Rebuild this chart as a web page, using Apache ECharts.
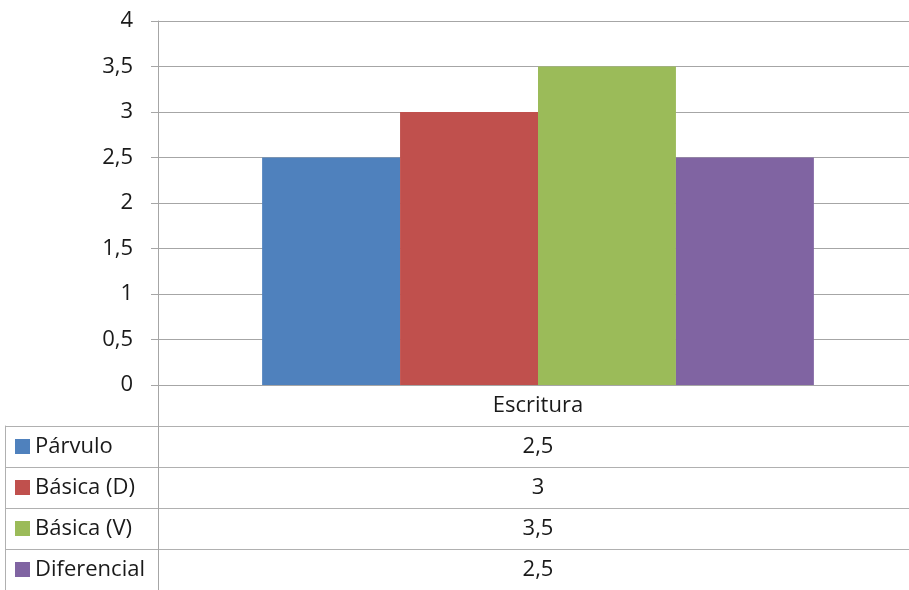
<!DOCTYPE html>
<html>
<head>
<meta charset="utf-8">
<style>
html,body{margin:0;padding:0;background:#fff;overflow:hidden;width:909px;height:590px;}
#c{width:918px;height:590px;}
</style>
<script src="https://cdn.jsdelivr.net/npm/echarts@6/dist/echarts.min.js"></script>
</head>
<body>
<div id="c"></div>
<script>
// ---- data ----
var categories = ['Escritura'];
var seriesNames = ['Párvulo', 'Básica (D)', 'Básica (V)', 'Diferencial'];
var parvulo = [2.5];
var basicaD = [3];
var basicaV = [3.5];
var diferencial = [2.5];
var yMin = 0, yMax = 4, yInterval = 0.5;
var colors = ['#4F81BD', '#C0504D', '#9BBB59', '#8064A2'];

var seriesValues = [parvulo, basicaD, basicaV, diferencial];
var FONT = '"Open Sans", sans-serif';
var TXT = '#1a1a1a';
var LINE = '#A6A6A6';
var fmt = function (v) { return String(v).replace('.', ','); };

var rich = { t: { fontFamily: FONT, fontSize: 22, color: TXT, padding: [0, 0, 0, 5] } };
seriesNames.forEach(function (n, i) {
  rich['s' + i] = { width: 15, height: 15, backgroundColor: colors[i] };
});

var series = seriesNames.map(function (n, i) {
  return {
    name: n, type: 'bar', xAxisIndex: 0, yAxisIndex: 0,
    data: seriesValues[i], itemStyle: { color: colors[i] },
    barGap: '0%', barCategoryGap: '27.4%'
  };
});

var tableData = [];
seriesNames.forEach(function (n, i) {
  categories.forEach(function (c, j) {
    tableData.push([c, n, seriesValues[i][j]]);
  });
});
series.push({
  type: 'scatter', xAxisIndex: 1, yAxisIndex: 1, symbolSize: 0, silent: true,
  itemStyle: { opacity: 1 },
  data: tableData,
  label: { show: true, position: 'inside', fontFamily: FONT, fontSize: 22, color: TXT, opacity: 1,
    formatter: function (p) { return fmt(p.value[2]); } }
});

var chart = echarts.init(document.getElementById('c'));
chart.setOption({
  animation: false,
  backgroundColor: '#fff',
  grid: [
    { left: 158, top: 21, right: 0, height: 364 },
    { left: 158, top: 426, right: 0, height: 165 }
  ],
  xAxis: [
    { type: 'category', gridIndex: 0, data: categories,
      axisLine: { show: true, lineStyle: { color: LINE } },
      axisTick: { show: true, alignWithLabel: false, length: 41, lineStyle: { color: LINE } },
      axisLabel: { fontFamily: FONT, fontSize: 22, color: TXT, margin: 10, lineHeight: 22 } },
    { type: 'category', gridIndex: 1, data: categories, show: false }
  ],
  yAxis: [
    { type: 'value', gridIndex: 0, min: yMin, max: yMax, interval: yInterval,
      axisLine: { show: true, lineStyle: { color: LINE } },
      axisTick: { show: true, length: 7, lineStyle: { color: LINE } },
      splitLine: { show: true, lineStyle: { color: LINE } },
      axisLabel: { fontFamily: FONT, fontSize: 22, color: TXT, margin: 25, formatter: fmt } },
    { type: 'category', gridIndex: 1, data: seriesNames, inverse: true,
      axisLine: { show: true, lineStyle: { color: LINE } },
      axisTick: { show: true, alignWithLabel: false, length: 153, lineStyle: { color: '#B0B0B0' } },
      splitLine: { show: true, lineStyle: { color: '#B0B0B0' } },
      axisLabel: { align: 'left', margin: 143, rich: rich,
        formatter: function (v, i) { return '{s' + i + '|}{t|' + v + '}'; } } },
    { type: 'category', gridIndex: 1, data: seriesNames, position: 'left', offset: 153,
      axisLine: { show: true, lineStyle: { color: '#B0B0B0' } },
      axisTick: { show: false }, axisLabel: { show: false }, splitLine: { show: false } }
  ],
  series: series
});
</script>
</body>
</html>
